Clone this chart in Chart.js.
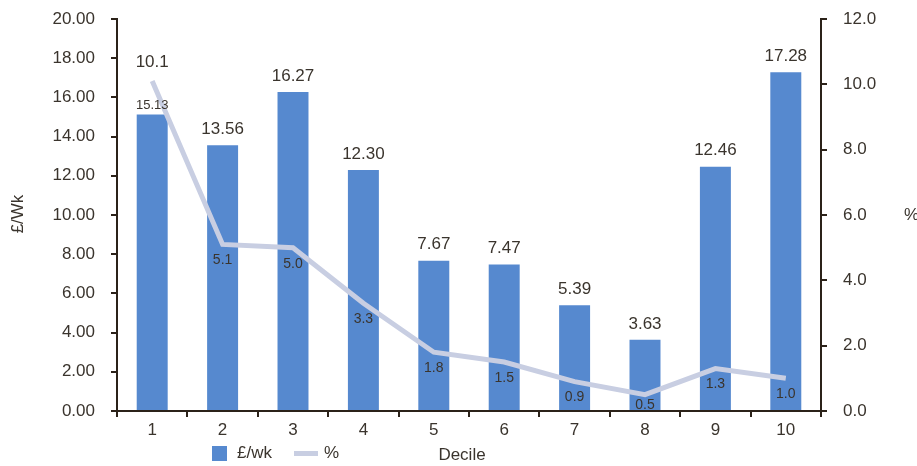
<!DOCTYPE html>
<html>
<head>
<meta charset="utf-8">
<script src="https://cdn.jsdelivr.net/npm/chart.js@4.4.1/dist/chart.umd.min.js"></script>
<style>
  html, body { margin: 0; padding: 0; background: #fff; }
  .wrap { width: 917px; height: 466px; }
</style>
</head>
<body>
<div class="wrap"><canvas id="chart"></canvas></div>
<script>
const deciles = ["1", "2", "3", "4", "5", "6", "7", "8", "9", "10"];
const weekly = [15.13, 13.56, 16.27, 12.30, 7.67, 7.47, 5.39, 3.63, 12.46, 17.28];
const percent = [10.1, 5.1, 5.0, 3.3, 1.8, 1.5, 0.9, 0.5, 1.3, 1.0];
const leftTicks = [0, 2, 4, 6, 8, 10, 12, 14, 16, 18, 20];
const rightTicks = [0, 2, 4, 6, 8, 10, 12];

const FONT = "'Liberation Sans', Arial, sans-serif";
const INK = "#3a342d";
const AXIS = "#2b2219";
const BAR = "#5689cf";
const LINE = "#c8cee2";

// value labels, axis titles and legend
const extras = {
  id: "extras",
  afterDatasetsDraw(chart) {
    const ctx = chart.ctx;
    const bars = chart.getDatasetMeta(0).data;
    const pts = chart.getDatasetMeta(1).data;
    const bottom = chart.chartArea.bottom;
    ctx.save();
    ctx.fillStyle = INK;
    ctx.textAlign = "center";
    ctx.textBaseline = "middle";
    bars.forEach((bar, i) => {
      ctx.font = (i === 0 ? "13px " : "17px ") + FONT;
      ctx.fillText(weekly[i].toFixed(2), bar.x, bar.y - (i === 0 ? 9 : 16));
    });
    pts.forEach((pt, i) => {
      if (i === 0) {
        ctx.font = "17px " + FONT;
        ctx.fillText(percent[i].toFixed(1), pt.x, pt.y - 19);
      } else {
        ctx.font = "14px " + FONT;
        ctx.fillText(percent[i].toFixed(1), pt.x, Math.min(pt.y + 16, bottom - 6));
      }
    });
    ctx.restore();
  },
  afterDraw(chart) {
    const ctx = chart.ctx;
    const ds = chart.data.datasets;
    ctx.save();
    ctx.fillStyle = INK;
    ctx.font = "17px " + FONT;
    ctx.textBaseline = "middle";

    ctx.save();
    ctx.translate(18, 214);
    ctx.rotate(-Math.PI / 2);
    ctx.textAlign = "center";
    ctx.fillText("£/Wk", 0, 0);
    ctx.restore();

    ctx.textAlign = "left";
    ctx.fillText("%", 904, 215);

    ctx.textAlign = "center";
    ctx.fillText("Decile", 462, 455);

    // legend
    ctx.fillStyle = ds[0].backgroundColor;
    ctx.fillRect(212, 446, 15, 15);
    ctx.strokeStyle = ds[1].borderColor;
    ctx.lineWidth = 5;
    ctx.beginPath();
    ctx.moveTo(294, 453.5);
    ctx.lineTo(318, 453.5);
    ctx.stroke();
    ctx.fillStyle = INK;
    ctx.textAlign = "left";
    ctx.fillText(ds[0].label, 237, 453.5);
    ctx.fillText(ds[1].label, 324, 453.5);
    ctx.restore();
  }
};

const fitY = (width) => (s) => {
  s.width = width;
  s.paddingTop = 0;
  s.paddingBottom = 0;
};

new Chart(document.getElementById("chart"), {
  type: "bar",
  data: {
    labels: deciles,
    datasets: [
      {
        label: "£/wk",
        data: weekly,
        backgroundColor: BAR,
        yAxisID: "y",
        categoryPercentage: 1,
        barPercentage: 0.44,
        order: 2,
      },
      {
        type: "line",
        label: "%",
        data: percent,
        borderColor: LINE,
        backgroundColor: LINE,
        borderWidth: 5,
        pointRadius: 0,
        tension: 0,
        yAxisID: "y1",
        order: 1,
      },
    ],
  },
  options: {
    responsive: true,
    maintainAspectRatio: false,
    animation: false,
    devicePixelRatio: 1,
    layout: { padding: { top: 19, left: 0, right: 0, bottom: 0 } },
    plugins: {
      legend: { display: false },
      tooltip: { enabled: false },
    },
    scales: {
      x: {
        offset: true,
        grid: { drawOnChartArea: false, color: AXIS, lineWidth: 2, tickLength: 6, offset: true },
        border: { color: AXIS, width: 2 },
        ticks: { color: INK, font: { family: FONT, size: 17 }, padding: 3 },
        afterFit: (s) => { s.height = 55; },
      },
      y: {
        position: "left",
        min: 0,
        max: 20,
        afterBuildTicks: (s) => { s.ticks = leftTicks.map((v) => ({ value: v })); },
        grid: { drawOnChartArea: false, color: AXIS, lineWidth: 2, tickLength: 6 },
        border: { color: AXIS, width: 2 },
        ticks: { color: INK, font: { family: FONT, size: 17 }, padding: 16, callback: (v) => Number(v).toFixed(2) },
        afterFit: fitY(117),
      },
      y1: {
        position: "right",
        min: 0,
        max: 12,
        afterBuildTicks: (s) => { s.ticks = rightTicks.map((v) => ({ value: v })); },
        grid: { drawOnChartArea: false, color: AXIS, lineWidth: 2, tickLength: 6 },
        border: { color: AXIS, width: 2 },
        ticks: { color: INK, font: { family: FONT, size: 17 }, padding: 16, callback: (v) => Number(v).toFixed(1) },
        afterFit: fitY(96),
      },
    },
  },
  plugins: [extras],
});
</script>
</body>
</html>
